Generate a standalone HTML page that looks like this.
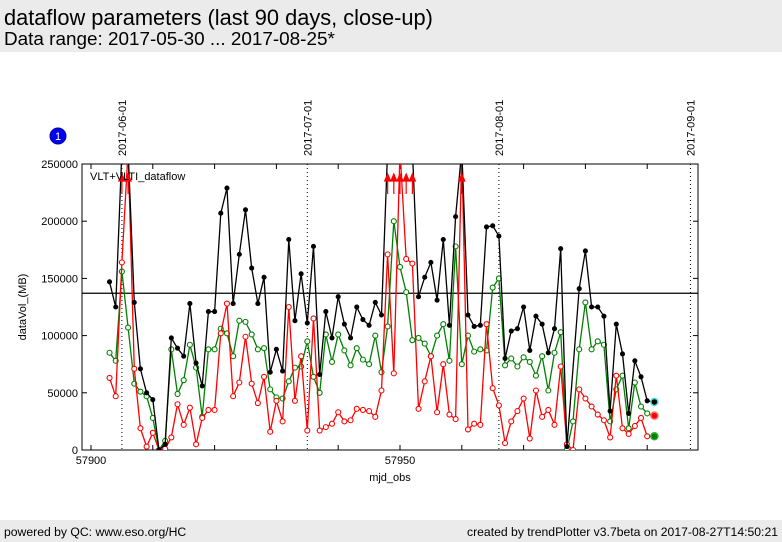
<!DOCTYPE html>
<html><head><meta charset="utf-8"><style>
body{margin:0;width:782px;height:542px;background:#fff;font-family:"Liberation Sans",sans-serif;overflow:hidden;position:relative}
.hdr{position:absolute;left:0;top:0;width:782px;height:52px;background:#ebebeb}
.ftr{position:absolute;left:0;top:520px;width:782px;height:22px;background:#ebebeb;font-size:12.2px}
</style></head><body>
<div class="hdr">
<div style="position:absolute;left:4px;top:5px;font-size:21.8px">dataflow parameters (last 90 days, close-up)</div>
<div style="position:absolute;left:4px;top:29px;font-size:18.9px">Data range: 2017-05-30 ... 2017-08-25*</div>
</div>
<div class="ftr">
<span style="position:absolute;left:4px;top:5px">powered by QC: www.eso.org/HC</span>
<span style="position:absolute;right:4px;top:5px">created by trendPlotter v3.7beta on 2017-08-27T14:50:21</span>
</div>
<svg id="chart" width="782" height="542" style="position:absolute;left:0;top:0"></svg>
<script>
const startMjd = 57903;
const black = [147000,125000,300000,300000,129000,71000,50000,44000,0,5000,98000,89000,82000,128000,76000,56000,121000,121000,207000,229000,128000,171000,210000,159000,128000,151000,68000,88000,69000,184000,113000,154000,111000,178000,66000,121000,98000,134000,110000,98000,125000,114000,109000,129000,118000,300000,300000,300000,300000,300000,134000,151000,164000,131000,184000,109000,204000,300000,118000,108000,109000,195000,196000,187000,80000,104000,106000,125000,87000,117000,110000,85000,106000,176000,3000,null,141000,174000,125000,125000,117000,34000,110000,84000,32000,78000,64000,43000,42000];
const green = [85000,78000,156000,107000,58000,51000,47000,28000,0,8000,88000,49000,61000,92000,72000,29000,88000,88000,106000,102000,82000,113000,112000,101000,88000,89000,53000,46000,45000,60000,72000,73000,95000,64000,50000,101000,77000,101000,87000,74000,89000,79000,75000,100000,68000,108000,200000,160000,138000,96000,98000,93000,82000,100000,110000,78000,178000,75000,100000,86000,88000,87000,142000,150000,74000,80000,73000,81000,77000,65000,82000,52000,85000,103000,0,25000,88000,129000,88000,95000,92000,25000,53000,65000,19000,59000,38000,32000,30000];
const red = [63000,47000,164000,300000,71000,19000,3000,15000,0,1000,11000,40000,22000,37000,5000,28000,35000,35000,102000,128000,47000,59000,99000,58000,41000,64000,16000,43000,25000,125000,43000,82000,17000,115000,17000,20000,23000,33000,25000,26000,36000,35000,34000,29000,52000,171000,67000,300000,167000,163000,36000,60000,82000,33000,75000,31000,27000,300000,18000,23000,22000,110000,54000,39000,6000,25000,34000,45000,10000,52000,29000,35000,22000,73000,5000,0,53000,45000,38000,31000,26000,11000,65000,19000,14000,21000,28000,12000,12000];
const yTicks = [0,50000,100000,150000,200000,250000];
const xLabelTicks = [57900,57950];
const monthMjd = [57905,57935,57966,57997];
const monthLabels = ["2017-06-01","2017-07-01","2017-08-01","2017-09-01"];
const refLine = 137000;

const L=82,R=698,T=164,B=450;
const X=m=>91+(m-57900)*6.18;
const Y=v=>B-Math.min(v,262000)/250000*(B-T);
const NS="http://www.w3.org/2000/svg";
const svg=document.getElementById('chart');
function mk(t,a,p){const e=document.createElementNS(NS,t);for(const k in a)e.setAttribute(k,a[k]);(p||svg).appendChild(e);return e;}
const clip=mk('clipPath',{id:'pc'});mk('rect',{x:L,y:T,width:R-L,height:B-T},clip);
let e=mk('rect',{x:L,y:T,width:R-L,height:B-T,fill:'none',stroke:'#000','stroke-width':1});


yTicks.forEach(v=>{const y=Y(v);
 mk('line',{x1:L,x2:L+5,y1:y,y2:y,stroke:'#000'});mk('line',{x1:R-5,x2:R,y1:y,y2:y,stroke:'#000'});
 const t=mk('text',{x:L-4,y:y+4,'text-anchor':'end','font-size':11});t.textContent=v;
 
 });
for(let m=57900;m<=57990;m+=10){const x=X(m);mk('line',{x1:x,x2:x,y1:B,y2:B-5,stroke:'#000'});mk('line',{x1:x,x2:x,y1:T,y2:T+5,stroke:'#000'});}
xLabelTicks.forEach(m=>{const t=mk('text',{x:X(m),y:B+14,'text-anchor':'middle','font-size':11});t.textContent=m;
 
 });
monthMjd.forEach((m,i)=>{const x=X(m);mk('line',{x1:x,x2:x,y1:T,y2:B,stroke:'#000','stroke-dasharray':'1,3'});
 const t=mk('text',{x:0,y:0,'font-size':11,transform:`translate(${x+4},${T-8}) rotate(-90)`});t.textContent=monthLabels[i];
 
 });
e=mk('line',{x1:L,x2:R,y1:Y(refLine),y2:Y(refLine),stroke:'#000','stroke-width':1.2});


const g=mk('g',{'clip-path':'url(#pc)'});
function series(arr,col,name,fillPt){
 let d='';
 arr.forEach((v,i)=>{if(v===null)return;d+=(d?'L':'M')+X(startMjd+i).toFixed(1)+','+Y(v).toFixed(1);});
 const p=mk('path',{d:d,fill:'none',stroke:col,'stroke-width':1.3},g);
 
 
 arr.forEach((v,i)=>{if(v===null||v>250000)return;
  const c=mk('circle',{cx:X(startMjd+i),cy:Y(v),r:fillPt?2:2.5,fill:fillPt?col:'#fff',stroke:col,'stroke-width':1.1},g);
  
  });
}
series(green,'#008000','green-series',false);
series(red,'#ff0000','red-series',false);
series(black,'#000','black-series',true);
black.forEach((v,i)=>{if(v!==null&&v>250000){const x=X(startMjd+i);
 const a=mk('path',{d:`M${x},${T+10}L${x-3},${T+17}L${x+3},${T+17}Z M${x},${T+17}L${x},${T+30}`,fill:'#f00',stroke:'#f00','stroke-width':1.2});
 
 }});
const last=black.length-1,lx=X(startMjd+last)+1;
[[black[last]],[green[last]],[red[last]]].forEach((m,i)=>{
 const c=mk('circle',{cx:lx,cy:Y(m[0]),r:3.5,fill:i==0?'#000':(i==1?'#f00':'#008000'),stroke:i==0?'#4dd':(i==1?'#f66':'#3a3'),'stroke-width':1.5});
 
 });
e=mk('text',{x:90,y:180,'font-size':11});e.textContent='VLT+VLTI_dataflow';


e=mk('text',{x:0,y:0,'font-size':11,'text-anchor':'middle',transform:'translate(26,307) rotate(-90)'});e.textContent='dataVol_(MB)';


e=mk('text',{x:390,y:481,'font-size':11,'text-anchor':'middle'});e.textContent='mjd_obs';


const bc=mk('circle',{cx:58,cy:136,r:8,fill:'#0000ee',stroke:'#0000aa'});


e=mk('text',{x:58,y:140,'font-size':11,fill:'#fff','text-anchor':'middle'});e.textContent='1';


</script>
</body></html>
